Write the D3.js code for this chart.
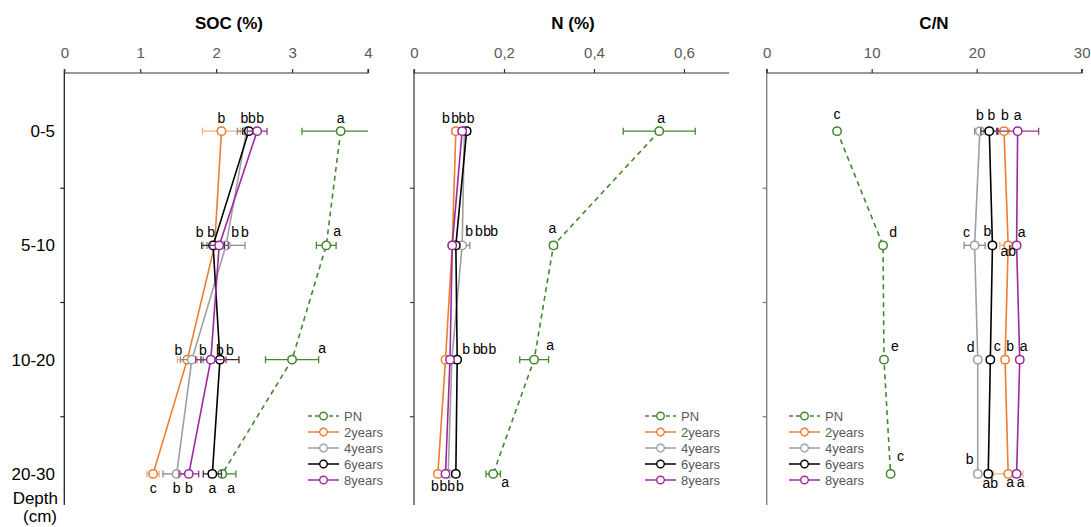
<!DOCTYPE html>
<html><head><meta charset="utf-8">
<script src="https://cdn.jsdelivr.net/npm/d3@7"></script>
<style>
body{margin:0;background:#fff}
svg{display:block;font-family:"Liberation Sans",Arial,sans-serif}
</style></head><body>
<svg id="chart" width="1091" height="527"></svg>
<script>
// ---------- DATA ----------
const depths = ["0-5", "5-10", "10-20", "20-30"];
const seriesNames = ["PN", "2years", "4years", "6years", "8years"];

const socTicks = [0, 1, 2, 3, 4];
const socPN  = [3.64, 3.45, 3.00, 2.08];
const soc2y  = [2.07, 1.98, 1.62, 1.17];
const soc4y  = [2.40, 2.13, 1.68, 1.48];
const soc6y  = [2.43, 1.96, 2.05, 1.95];
const soc8y  = [2.54, 2.04, 1.93, 1.64];
const socErrPN = [0.51, 0.13, 0.35, 0.18];
const socErr2y = [0.25, 0.15, 0.13, 0.08];
const socErr4y = [0.12, 0.25, 0.15, 0.18];
const socErr6y = [0.08, 0.15, 0.25, 0.12];
const socErr8y = [0.13, 0.12, 0.20, 0.13];
const socLetPN = ["a", "a", "a", "a"];
const socLet2y = ["b", "b", "b", "c"];
const socLet4y = ["b", "b", "b", "b"];
const socLet6y = ["b", "b", "b", "a"];
const socLet8y = ["b", "b", "b", "b"];

const nTicks = [0, 0.2, 0.4, 0.6];
const nPN  = [0.545, 0.310, 0.267, 0.176];
const n2y  = [0.093, 0.085, 0.070, 0.053];
const n4y  = [0.112, 0.107, 0.084, 0.076];
const n6y  = [0.117, 0.093, 0.096, 0.093];
const n8y  = [0.107, 0.085, 0.080, 0.070];
const nErrPN = [0.080, 0.008, 0.032, 0.016];
const nErr2y = [0.008, 0.004, 0.005, 0.004];
const nErr4y = [0.008, 0.017, 0.006, 0.004];
const nErr6y = [0.008, 0.005, 0.006, 0.004];
const nErr8y = [0.008, 0.005, 0.005, 0.004];
const nLetPN = ["a", "a", "a", "a"];
const nLet2y = ["b", "b", "b", "b"];
const nLet4y = ["b", "b", "b", "b"];
const nLet6y = ["b", "b", "b", "b"];
const nLet8y = ["b", "b", "b", "b"];

const cnTicks = [0, 10, 20, 30];
const cnPN  = [6.7, 11.08, 11.17, 11.8];
const cn2y  = [22.6, 23.0, 22.7, 23.0];
const cn4y  = [20.3, 19.8, 20.1, 20.1];
const cn6y  = [21.2, 21.5, 21.3, 21.1];
const cn8y  = [23.9, 23.8, 24.1, 23.8];
const cnErrPN = [0.2, 0.2, 0.2, 0.2];
const cnErr2y = [0.5, 0.8, 0.3, 1.4];
const cnErr4y = [0.5, 1.0, 0.3, 0.3];
const cnErr6y = [0.8, 0.3, 0.3, 0.3];
const cnErr8y = [2.0, 0.3, 0.3, 0.3];
const cnLetPN = ["c", "d", "e", "c"];
const cnLet2y = ["b", "ab", "b", "a"];
const cnLet4y = ["b", "c", "d", "b"];
const cnLet6y = ["b", "b", "c", "ab"];
const cnLet8y = ["a", "a", "a", "a"];

// ---------- LAYOUT / STYLE ----------
const colors = {"PN":"#43882e","2years":"#ed7d31","4years":"#a0a0a0","6years":"#000000","8years":"#9c2a9c"};
const errColors = {"PN":"#43882e","2years":"#f4b183","4years":"#8c8c8c","6years":"#333333","8years":"#8a3a8a"};
const font = '"Liberation Sans",Arial,sans-serif';

// label offsets [dx, dy] per panel, per series, per depth
const offSOC = {
  "PN":[[0,-8],[11,-9],[30,-7],[9,19]],
  "2years":[[0,-8],[-15,-8],[-9,-5],[0,19]],
  "4years":[[-2,-8],[19,-8],[11,-5],[0,19]],
  "6years":[[3,-8],[-2,-8],[10,-5],[0,19]],
  "8years":[[3,-8],[16,-8],[9,-5],[0,19]]
};
const offN = {
  "PN":[[2,-8],[-1,-12],[16,-10],[12,13]],
  "2years":[[-10,-8],[35,-9],[47,-6],[-3,17]],
  "4years":[[-2,-8],[7,-9],[25,-6],[3,17]],
  "6years":[[4,-8],[23,-9],[9,-6],[4,17]],
  "8years":[[-7,-8],[42,-9],[34,-6],[-2,17]]
};
const offCN = {
  "PN":[[0,-12],[10,-8],[11,-9],[10,-13]],
  "2years":[[1,-11],[0,11],[5,-9],[2,13]],
  "4years":[[0,-11],[-8,-8],[-7,-8],[-8,-10]],
  "6years":[[2,-11],[-5,-9],[7,-9],[2,14]],
  "8years":[[0,-11],[5,-8],[4,-9],[4,13]]
};

const panels = [
  {title:"SOC (%)", titleX:229, x0:64.3, x1:368, domain:[0,4], ticks:socTicks, fmt:d=>String(d),
   vals:[socPN,soc2y,soc4y,soc6y,soc8y], errs:[socErrPN,socErr2y,socErr4y,socErr6y,socErr8y],
   lets:[socLetPN,socLet2y,socLet4y,socLet6y,socLet8y], off:offSOC, legX:308, axisColor:"#222"},
  {title:"N (%)", titleX:573, x0:414, x1:729, domain:[0,0.7], ticks:nTicks, fmt:d=>d===0?"0":String(d).replace(".",","),
   vals:[nPN,n2y,n4y,n6y,n8y], errs:[nErrPN,nErr2y,nErr4y,nErr6y,nErr8y],
   lets:[nLetPN,nLet2y,nLet4y,nLet6y,nLet8y], off:offN, legX:645, axisColor:"#444"},
  {title:"C/N", titleX:934, x0:766.7, x1:1081.7, domain:[0,30], ticks:cnTicks, fmt:d=>String(d),
   vals:[cnPN,cn2y,cn4y,cn6y,cn8y], errs:[cnErrPN,cnErr2y,cnErr4y,cnErr6y,cnErr8y],
   lets:[cnLetPN,cnLet2y,cnLet4y,cnLet6y,cnLet8y], off:offCN, legX:789, axisColor:"#777"}
];

const svg = d3.select("#chart");
const axisY = 73, axisBottom = 505;
const y = d3.scaleBand().domain(depths).range([74, 531]).padding(0);
const yc = d => y(d) + y.bandwidth()/2;

panels.forEach((p, pi) => {
  const x = d3.scaleLinear().domain(p.domain).range([p.x0, p.x1]);
  const g = svg.append("g");

  // title
  g.append("text").attr("x", p.titleX).attr("y", 29).attr("text-anchor","middle")
    .attr("font-size", 17).attr("font-weight","bold").attr("fill","#000").attr("font-family",font).text(p.title);

  // top x axis
  const ax = d3.axisTop(x).tickValues(p.ticks).tickFormat(p.fmt).tickSize(4).tickPadding(11);
  const axG = g.append("g").attr("transform",`translate(0,${axisY})`).call(ax);
  axG.select(".domain").attr("stroke", "#333").attr("stroke-width",1.2).attr("d", `M${p.x0},-4V0H${p.x1}${pi===1?"":"V-4"}`);
  axG.selectAll(".tick line").attr("stroke","#333").attr("stroke-width",1.2);
  axG.selectAll(".tick text").attr("font-size",15).attr("fill","#595959").attr("font-family",font);

  // left y axis (band boundaries ticks, no labels)
  const yAx = d3.axisLeft(y).tickValues([]).tickSizeOuter(0);
  const yG = g.append("g").attr("transform",`translate(${p.x0},0)`).call(yAx);
  yG.select(".domain").attr("stroke", p.axisColor).attr("stroke-width",1.3).attr("d", `M0,${axisY}V${axisBottom}`);
  g.selectAll(null).data(depths.slice(1)).enter().append("line")
    .attr("x1", p.x0-4).attr("x2", p.x0).attr("y1", d=>y(d)).attr("y2", d=>y(d))
    .attr("stroke", p.axisColor).attr("stroke-width",1.2);

  const clamp = v => Math.max(p.domain[0], Math.min(p.domain[1], v));

  seriesNames.forEach((s, si) => {
    const vals = p.vals[si], errs = p.errs[si];
    const pts = depths.map((d,i)=>({d, v:vals[i], e:errs[i], l:p.lets[si][i], o:p.off[s][i]}));
    const sg = g.append("g");
    // error bars
    pts.forEach(pt => {
      const lo = pt.v - pt.e, hi = pt.v + pt.e;
      const cy = yc(pt.d);
      sg.append("line").attr("x1", x(clamp(lo))).attr("x2", x(clamp(hi))).attr("y1",cy).attr("y2",cy)
        .attr("stroke", errColors[s]).attr("stroke-width",1.3);
      [lo, hi].forEach(e => {
        if (e >= p.domain[0] && e <= p.domain[1]) {
          sg.append("line").attr("x1", x(e)).attr("x2", x(e)).attr("y1", cy-3.5).attr("y2", cy+3.5)
            .attr("stroke", errColors[s]).attr("stroke-width",1.3);
        }
      });
    });
    // line
    const line = d3.line().x(pt=>x(pt.v)).y(pt=>yc(pt.d));
    sg.append("path").datum(pts).attr("d", line).attr("fill","none")
      .attr("stroke", colors[s]).attr("stroke-width", 1.6)
      .attr("stroke-dasharray", s==="PN" ? "5,4" : null);
    // markers
    sg.selectAll("circle").data(pts).enter().append("circle")
      .attr("cx", pt=>x(pt.v)).attr("cy", pt=>yc(pt.d)).attr("r", 4.2)
      .attr("fill","#fff").attr("stroke", colors[s]).attr("stroke-width",1.5);
  });

  // letters
  seriesNames.forEach((s, si) => {
    depths.forEach((d,i) => {
      const v = p.vals[si][i], o = p.off[s][i];
      g.append("text").attr("x", x(v)+o[0]).attr("y", yc(d)+o[1]).attr("text-anchor","middle")
        .attr("font-size",14).attr("fill","#000").attr("font-family",font).text(p.lets[si][i]);
    });
  });

  // legend
  const leg = g.append("g");
  seriesNames.forEach((s, si) => {
    const ly = 416 + si*16;
    leg.append("line").attr("x1", p.legX).attr("x2", p.legX+31).attr("y1", ly).attr("y2", ly)
      .attr("stroke", colors[s]).attr("stroke-width",1.5).attr("stroke-dasharray", s==="PN"?"4,3":null);
    leg.append("circle").attr("cx", p.legX+15.5).attr("cy", ly).attr("r",3.8)
      .attr("fill","#fff").attr("stroke", colors[s]).attr("stroke-width",1.4);
    leg.append("text").attr("x", p.legX+36).attr("y", ly+4.5).attr("font-size",13)
      .attr("fill","#595959").attr("font-family",font).text(s);
  });
});

// depth category labels
svg.selectAll(".dlab").data(depths).enter().append("text").attr("class","dlab")
  .attr("x", 55).attr("y", d=>yc(d)+6).attr("text-anchor","end")
  .attr("font-size",17).attr("fill","#000").attr("font-family",font).text(d=>d);
svg.append("text").attr("x", 58).attr("y", 504).attr("text-anchor","end")
  .attr("font-size",17).attr("fill","#000").attr("font-family",font).text("Depth");
svg.append("text").attr("x", 57).attr("y", 522).attr("text-anchor","end")
  .attr("font-size",17).attr("fill","#000").attr("font-family",font).text("(cm)");
</script>
</body></html>
